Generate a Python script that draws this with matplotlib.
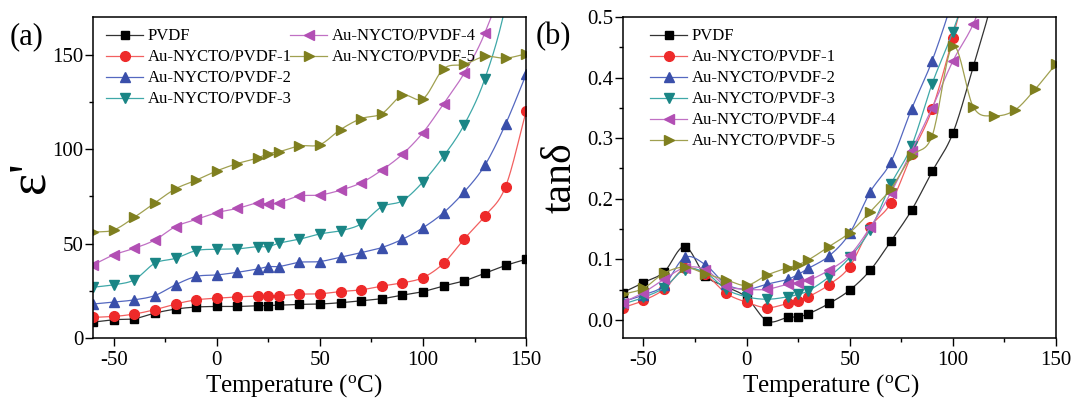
import numpy as np
import matplotlib
matplotlib.use('Agg')
import matplotlib.pyplot as plt
from matplotlib.ticker import MultipleLocator

plt.rcParams['font.family'] = ['Liberation Serif', 'DejaVu Serif']
plt.rcParams['mathtext.fontset'] = 'custom'
plt.rcParams['mathtext.rm'] = 'Liberation Serif'
plt.rcParams['axes.unicode_minus'] = False

# temperatures (degC)
temp = [-60, -50, -40, -30, -20, -10, 0, 10, 20, 25, 30, 40, 50, 60, 70, 80, 90,
        100, 110, 120, 130, 140, 150]

labels = ['PVDF', 'Au-NYCTO/PVDF-1', 'Au-NYCTO/PVDF-2', 'Au-NYCTO/PVDF-3',
          'Au-NYCTO/PVDF-4', 'Au-NYCTO/PVDF-5']
colors = ['black', '#ee2a2a', '#3a4faa', '#1a8585', '#b24fb4', '#7f7f1f']
line_colors = ['#333333', '#f26060', '#5468c0', '#3fa8a8', '#c070c4', '#a0a050']
markers = ['s', 'o', '^', 'v', '<', '>']

# permittivity eps'
eps_pvdf = [8.4, 9.7, 10.2, 13.2, 15.3, 16.4, 16.7, 16.7, 17.1, 17.2, 17.4, 17.8, 18.0,
            18.7, 19.7, 20.8, 22.7, 24.6, 27.6, 30.3, 34.3, 38.4, 41.7]
eps_1 = [10.9, 11.4, 12.7, 15.0, 18.0, 20.2, 21.1, 21.8, 22.2, 22.4, 22.4, 23.2, 23.4,
         24.6, 25.5, 27.5, 29.2, 32.0, 39.6, 52.5, 64.6, 80.1, 120.0]
eps_2 = [18.0, 19.0, 20.2, 22.5, 28.2, 32.6, 33.4, 34.8, 36.6, 37.8, 37.8, 40.1, 40.5,
         42.8, 45.2, 47.9, 52.3, 58.4, 66.4, 77.4, 91.5, 113.2, 139.6]
eps_3 = [26.9, 28.2, 30.8, 39.6, 42.2, 46.3, 47.0, 47.2, 48.4, 48.4, 50.2, 52.3, 55.1,
         56.8, 60.4, 69.5, 72.7, 82.7, 96.3, 113.0, 137.3, 176.0, 240.0]
eps_4 = [38.7, 44.0, 47.5, 51.9, 59.0, 62.8, 66.4, 68.6, 71.6, 70.9, 71.6, 75.2, 75.7,
         78.3, 82.2, 88.9, 97.3, 108.8, 124.1, 140.3, 161.6, 195.0, 260.0]
eps_5 = [56.0, 57.2, 63.9, 71.6, 79.0, 83.6, 88.5, 92.4, 95.4, 97.7, 98.6, 101.7, 102.4,
         110.4, 116.2, 118.8, 128.5, 126.7, 142.6, 144.9, 149.1, 148.2, 150.5]

# loss tangent
tan_pvdf = [0.045, 0.0615, 0.079, 0.121, 0.0725, 0.055, 0.037, -0.002, 0.004, 0.005,
            0.010, 0.027, 0.049, 0.082, 0.130, 0.181, 0.245, 0.308, 0.419, 0.54, 0.70,
            0.85, 1.0]
tan_1 = [0.020, 0.032, 0.0505, 0.085, 0.075, 0.044, 0.029, 0.020, 0.027, 0.031, 0.038,
         0.058, 0.088, 0.153, 0.193, 0.273, 0.348, 0.466, 0.60, 0.75, 0.9, 1.05, 1.2]
tan_2 = [0.030, 0.041, 0.057, 0.103, 0.091, 0.059, 0.0505, 0.059, 0.067, 0.075, 0.085,
         0.1055, 0.143, 0.2115, 0.261, 0.348, 0.428, 0.53, 0.65, 0.8, 0.95, 1.1, 1.25]
tan_3 = [0.026, 0.037, 0.053, 0.083, 0.078, 0.0505, 0.038, 0.034, 0.038, 0.042, 0.048,
         0.071, 0.103, 0.149, 0.224, 0.287, 0.390, 0.476, 0.58, 0.72, 0.87, 1.0, 1.15]
tan_4 = [0.0285, 0.045, 0.067, 0.086, 0.083, 0.056, 0.0505, 0.0505, 0.059, 0.0615, 0.065,
         0.082, 0.1065, 0.153, 0.210, 0.279, 0.350, 0.427, 0.489, 0.58, 0.7, 0.85, 1.0]
tan_5 = [0.042, 0.052, 0.077, 0.087, 0.076, 0.066, 0.057, 0.074, 0.086, 0.091, 0.099,
         0.121, 0.144, 0.1785, 0.2165, 0.270, 0.304, 0.452, 0.351, 0.337, 0.346, 0.381,
         0.4225]

eps_all = [eps_pvdf, eps_1, eps_2, eps_3, eps_4, eps_5]
tan_all = [tan_pvdf, tan_1, tan_2, tan_3, tan_4, tan_5]


def smooth(x, y, n=20):
    # cubic hermite curve through the points (for drawing the connecting line)
    x = np.asarray(x, float)
    y = np.asarray(y, float)
    m = np.zeros_like(y)
    m[1:-1] = (y[2:] - y[:-2]) / (x[2:] - x[:-2])
    m[0] = (y[1] - y[0]) / (x[1] - x[0])
    m[-1] = (y[-1] - y[-2]) / (x[-1] - x[-2])
    xs, ys = [], []
    for i in range(len(x) - 1):
        h = x[i + 1] - x[i]
        t = np.linspace(0, 1, n, endpoint=False)
        h00 = 2 * t**3 - 3 * t**2 + 1
        h10 = t**3 - 2 * t**2 + t
        h01 = -2 * t**3 + 3 * t**2
        h11 = t**3 - t**2
        xs.append(x[i] + t * h)
        ys.append(h00 * y[i] + h10 * h * m[i] + h01 * y[i + 1] + h11 * h * m[i + 1])
    xs.append([x[-1]])
    ys.append([y[-1]])
    return np.concatenate(xs), np.concatenate(ys)


fig = plt.figure(figsize=(10.72, 4.0), dpi=100)
ax1 = fig.add_axes([0.0868, 0.155, 0.404, 0.8025])
ax2 = fig.add_axes([0.581, 0.155, 0.404, 0.8025])

for ax, data in [(ax1, eps_all), (ax2, tan_all)]:
    for ys, lab, c, lc, mk in zip(data, labels, colors, line_colors, markers):
        sx, sy = smooth(temp, ys)
        ax.plot(sx, sy, '-', color=lc, lw=0.9)
        ax.plot(temp, ys, mk, color=c, ms=7 if mk != 's' else 6, mec=c)
        # legend proxy
        ax.plot([], [], '-', marker=mk, color=lc, mfc=c, mec=c,
                ms=7 if mk != 's' else 6, lw=0.9, label=lab)

for ax in (ax1, ax2):
    ax.set_xlim(-60, 150)
    ax.xaxis.set_major_locator(MultipleLocator(50))
    ax.xaxis.set_minor_locator(MultipleLocator(25))
    ax.tick_params(which='both', direction='out', top=False, right=False,
                   labelsize=15, width=1)
    ax.tick_params(which='major', length=6)
    ax.tick_params(which='minor', length=3)
    ax.tick_params(axis='y', pad=1)
    for s in ax.spines.values():
        s.set_linewidth(1.1)
    ax.set_xlabel('Temperature ($\\mathregular{^o}$C)', fontsize=18)

ax1.xaxis.set_label_coords(0.464, -0.107)
ax2.xaxis.set_label_coords(0.48, -0.107)

ax1.set_ylim(0, 170)
ax1.yaxis.set_major_locator(MultipleLocator(50))
ax1.yaxis.set_minor_locator(MultipleLocator(25))
ax1.set_ylabel("ε'", fontsize=38)
ax1.yaxis.set_label_coords(-0.09, 0.5)

ax2.set_ylim(-0.03, 0.5)
ax2.yaxis.set_minor_locator(MultipleLocator(0.05))
ax2.set_yticks([0.0, 0.1, 0.2, 0.3, 0.4, 0.5])
ax2.set_yticklabels(['0.0', '0.1', '0.2', '0.3', '0.4', '0.5'])
ax2.set_ylabel('tanδ', fontsize=30)
ax2.yaxis.set_label_coords(-0.1, 0.5)

leg_kw = dict(frameon=False, fontsize=12, handlelength=2.2, handletextpad=0.3,
              labelspacing=0.3, borderaxespad=0.0, loc='upper left')
h, l = ax1.get_legend_handles_labels()
leg_a = ax1.legend(h[:4], l[:4], bbox_to_anchor=(0.015, 0.985), **leg_kw)
ax1.add_artist(leg_a)
ax1.legend(h[4:], l[4:], bbox_to_anchor=(0.44, 0.985), **leg_kw)
h, l = ax2.get_legend_handles_labels()
ax2.legend(h, l, bbox_to_anchor=(0.048, 0.985), **leg_kw)

fig.text(0.009, 0.89, '(a)', fontsize=22)
fig.text(0.500, 0.89, '(b)', fontsize=22)

fig.savefig('out.png', dpi=100)
